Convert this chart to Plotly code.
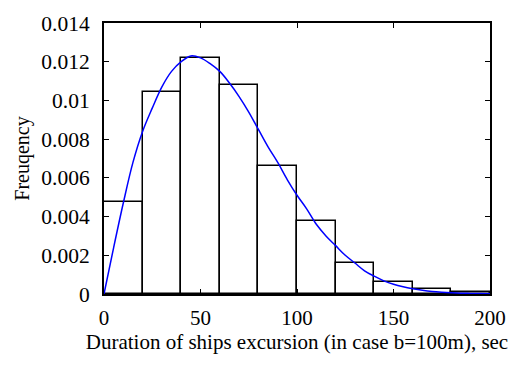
import plotly.graph_objects as go

bin_left = [0, 20, 40, 60, 80, 100, 120, 140, 160, 180]
bin_freq = [0.00473, 0.01042, 0.01220, 0.01081, 0.00663, 0.00376, 0.00161, 0.00060, 0.00027, 0.00009]

curve_x = [0, 5, 10, 15, 20, 25, 30, 35, 40, 45, 50, 55, 60, 65, 70, 75, 80, 85, 90, 95, 100,
           105, 110, 115, 120, 125, 130, 135, 140, 145, 150, 155, 160, 165, 170, 175, 180, 185, 190, 195, 200]
curve_y = [0, 0.0024, 0.0047, 0.0068, 0.0084, 0.0096, 0.0107, 0.0115, 0.0120, 0.0123, 0.0122, 0.0119,
           0.0115, 0.0109, 0.0102, 0.0094, 0.0085, 0.0076, 0.0068, 0.0059, 0.0051,
           0.0044, 0.0036, 0.0030, 0.0025, 0.0020, 0.0016, 0.0012, 0.00092, 0.00068, 0.00050,
           0.00037, 0.00027, 0.00019, 0.00013, 0.00009, 0.00006, 0.00004, 0.00003, 0.00002, 0.00001]

y_ticks = [0, 0.002, 0.004, 0.006, 0.008, 0.01, 0.012, 0.014]
y_ticktext = ["0", "0.002", "0.004", "0.006", "0.008", "0.01", "0.012", "0.014"]
x_ticks = [0, 50, 100, 150, 200]

font = "Liberation Serif"

fig = go.Figure()
fig.add_trace(go.Bar(
    x=[b + 10 for b in bin_left], y=bin_freq, width=20,
    marker=dict(color="white", line=dict(color="black", width=1.5)),
    showlegend=False,
))
fig.add_trace(go.Scatter(
    x=curve_x, y=curve_y, mode="lines", line=dict(color="#0000ff", width=1.5, shape="spline"),
    showlegend=False,
))

fig.update_layout(
    width=519, height=365,
    margin=dict(l=104, r=29, t=16, b=71),
    paper_bgcolor="white", plot_bgcolor="white",
    font=dict(family=font, size=21, color="black"),
    bargap=0,
)
fig.update_xaxes(
    range=[0, 200], tickvals=x_ticks, ticks="inside", ticklen=5, tickwidth=1,
    tickfont=dict(family=font, size=21, color="black"), ticklabelstandoff=4,
    tickcolor="black", showline=True, linecolor="black", linewidth=2, mirror="ticks",
    showgrid=False, zeroline=False,
    title=dict(text="Duration of ships excursion (in case b=100m), sec",
               font=dict(family=font, size=21, color="black"), standoff=0),
)
fig.update_yaxes(
    range=[0, 0.014], tickvals=y_ticks, ticktext=y_ticktext, ticks="inside", ticklen=5,
    tickfont=dict(family=font, size=21.5, color="black"), ticklabelstandoff=8,
    tickwidth=1, tickcolor="black", showline=True, linecolor="black", linewidth=2,
    mirror="ticks", showgrid=False, zeroline=False,
    title=dict(text="Freuqency", font=dict(family=font, size=20, color="black"), standoff=6),
)

fig.write_html("out.html")
